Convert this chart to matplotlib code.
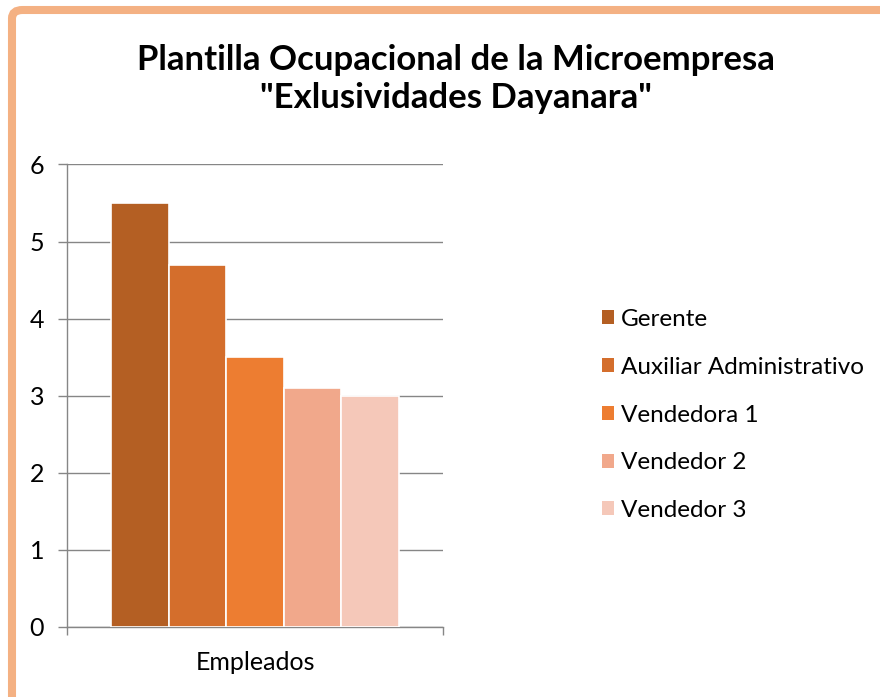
import matplotlib.pyplot as plt
from matplotlib.patches import FancyBboxPatch, Patch

# data
categoria = "Empleados"
puestos = ["Gerente", "Auxiliar Administrativo", "Vendedora 1", "Vendedor 2", "Vendedor 3"]
valores = [5.5, 4.7, 3.5, 3.1, 3.0]
colores = ["#B45F23", "#D46E2C", "#ED7D31", "#F1A88B", "#F5C8B9"]
yticks = [0, 1, 2, 3, 4, 5, 6]

plt.rcParams['font.family'] = ['Lato', 'DejaVu Sans']

W, H = 880, 697
fig = plt.figure(figsize=(W / 100, H / 100), dpi=100)

# orange frame, cut off on the right and bottom
frame = FancyBboxPatch((12 / W, -0.2), 1.2, 1 - 10 / H + 0.2,
                       boxstyle="round,pad=0,rounding_size=0.012",
                       transform=fig.transFigure, fill=False,
                       edgecolor="#F4B183", linewidth=5.8)
fig.patches.append(frame)

ax = fig.add_axes([67 / W, (H - 627) / H, (443 - 67) / W, (627 - 164.4) / H])

gris = "#868686"
n = len(valores)
grupo = 0.766
ancho = grupo / n
for i, (v, c) in enumerate(zip(valores, colores)):
    x = -grupo / 2 + ancho * (i + 0.5)
    ax.bar(x, v, width=ancho, color=c, edgecolor="white", linewidth=1.2, zorder=3)

ax.set_xlim(-0.5, 0.5)
ax.set_ylim(0, 6)
ax.set_yticks(yticks)
ax.tick_params(axis='y', direction='out', length=6.5, width=1, color=gris,
               labelsize=18, pad=10)
ax.set_xticks([-0.5, 0.5], labels=["", ""])
ax.tick_params(axis='x', which='major', direction='out', length=6, width=1, color=gris)
ax.set_xticks([0], labels=[categoria], minor=True)
ax.tick_params(axis='x', which='minor', length=0, labelsize=18, pad=17)

ax.grid(axis='y', color=gris, linewidth=1, zorder=0)
for s in ['top', 'right']:
    ax.spines[s].set_visible(False)
for s in ['left', 'bottom']:
    ax.spines[s].set_color(gris)
    ax.spines[s].set_linewidth(1)

fig.text(456 / W, 1 - 79 / H,
         'Plantilla Ocupacional de la Microempresa\n"Exlusividades Dayanara"',
         ha='center', va='center', fontsize=25, fontweight='bold',
         linespacing=1.25)

handles = [Patch(facecolor=c, edgecolor='none') for c in colores]
fig.legend(handles, puestos, loc='center left',
           bbox_to_anchor=(592 / W, 1 - 415 / H), frameon=False,
           fontsize=17.5, handlelength=0.5, handleheight=0.5,
           handletextpad=0.3, labelspacing=1.1, borderaxespad=0)

fig.savefig("out.png", dpi=100)
